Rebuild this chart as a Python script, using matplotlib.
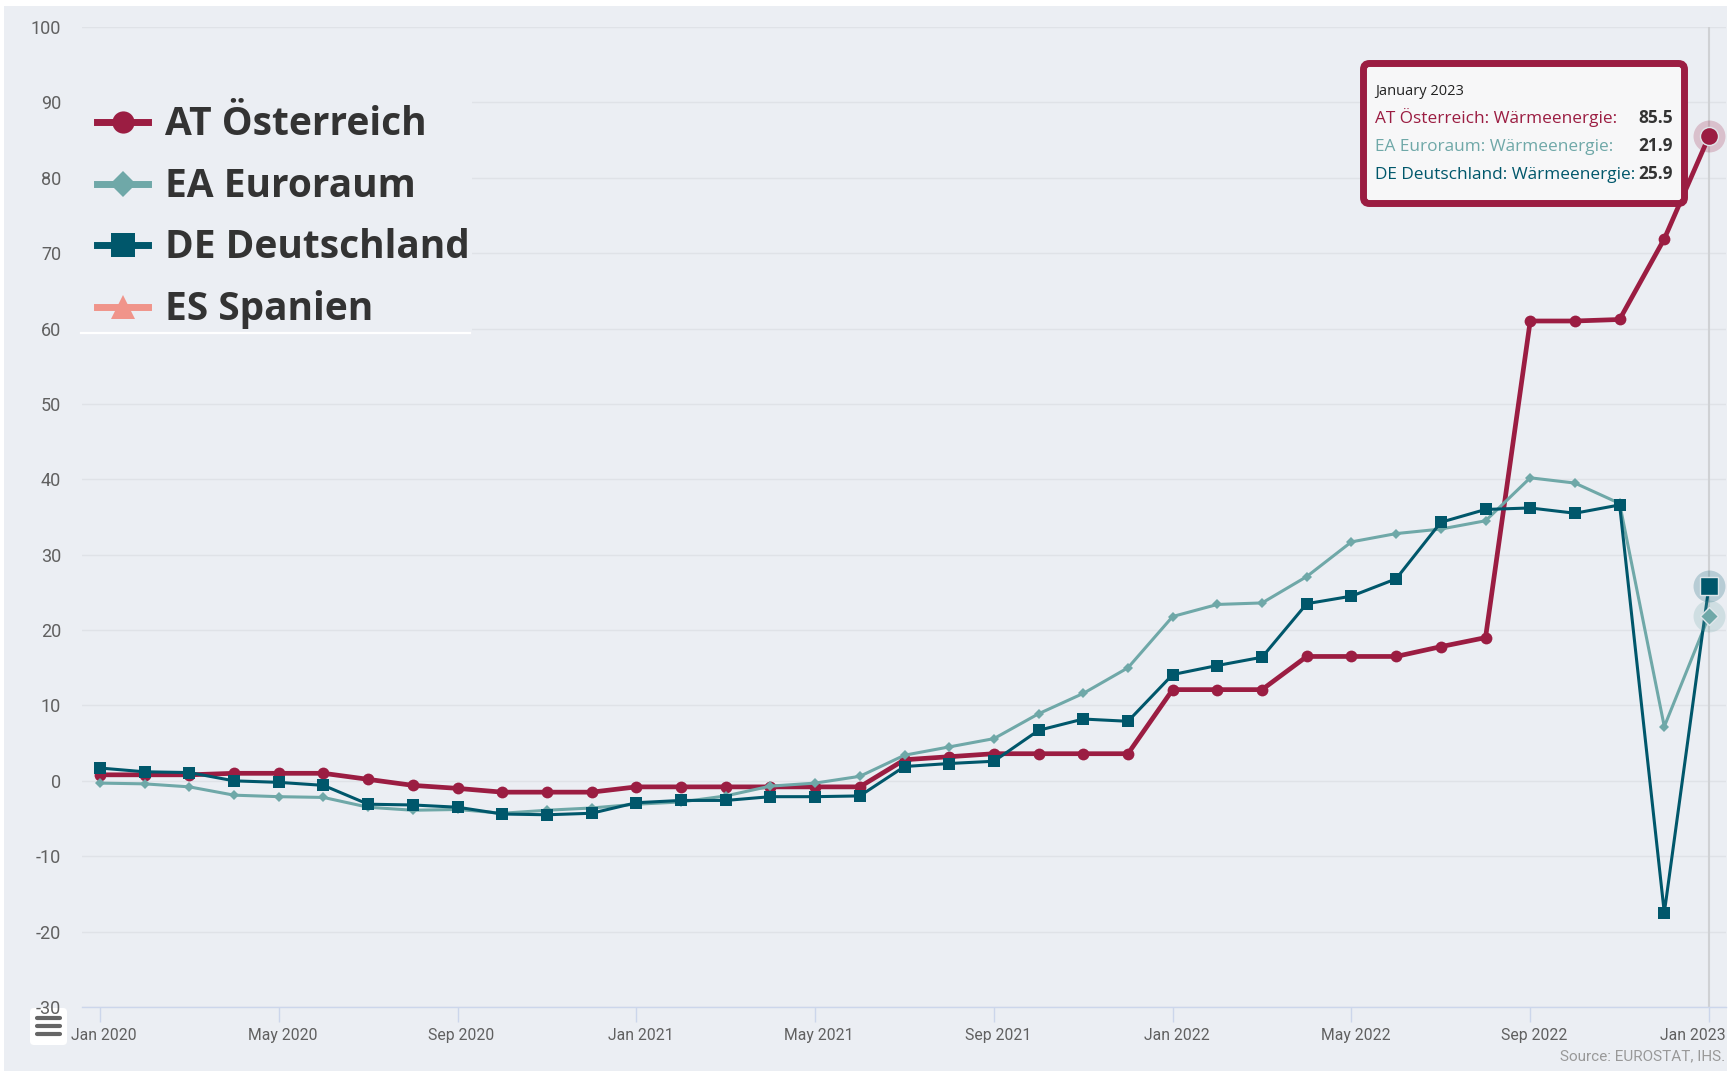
import numpy as np
import matplotlib
matplotlib.use("Agg")
import matplotlib.pyplot as plt
import matplotlib.transforms as mtransforms
from matplotlib.lines import Line2D
from matplotlib.patches import Rectangle, FancyBboxPatch

# ---------------- data ----------------
month_names = ["Jan", "Feb", "Mar", "Apr", "May", "Jun",
               "Jul", "Aug", "Sep", "Oct", "Nov", "Dec"]
months = [f"{m} {y}" for y in (2020, 2021, 2022) for m in month_names] + ["Jan 2023"]

at_values = [0.8, 0.8, 0.8, 1.0, 1.0, 1.0, 0.2, -0.6, -1.0, -1.5, -1.5, -1.5,
             -0.8, -0.8, -0.8, -0.8, -0.8, -0.8, 2.8, 3.2, 3.6, 3.6, 3.6, 3.6,
             12.1, 12.1, 12.1, 16.5, 16.5, 16.5, 17.8, 19.0, 61.0, 61.0, 61.2, 71.9,
             85.5]
ea_values = [-0.3, -0.4, -0.8, -1.9, -2.1, -2.2, -3.5, -3.9, -3.8, -4.3, -3.9, -3.6,
             -3.1, -2.8, -2.0, -0.7, -0.3, 0.6, 3.4, 4.5, 5.6, 8.9, 11.6, 15.0,
             21.8, 23.4, 23.6, 27.1, 31.7, 32.8, 33.4, 34.5, 40.2, 39.5, 36.8, 7.2,
             21.9]
de_values = [1.7, 1.2, 1.1, 0.0, -0.2, -0.6, -3.1, -3.2, -3.5, -4.4, -4.5, -4.3,
             -2.9, -2.6, -2.6, -2.1, -2.1, -2.0, 1.9, 2.3, 2.6, 6.7, 8.2, 7.9,
             14.1, 15.3, 16.4, 23.5, 24.5, 26.8, 34.3, 36.0, 36.2, 35.5, 36.6, -17.5,
             25.9]

series_names = ["AT Österreich", "EA Euroraum", "DE Deutschland", "ES Spanien"]
y_ticks = list(range(-30, 101, 10))
x_tick_idx = list(range(0, 37, 4))
tooltip_title = "January 2023"
tooltip_metric = "Wärmeenergie"
source_text = "Source: EUROSTAT, IHS."

# ---------------- style ----------------
BG = "#ebeef3"
C_AT = "#9b1d42"
C_EA = "#6fa8a8"
C_DE = "#00576b"
C_ES = "#f0948a"
TXT = "#333333"
LBL = "#606060"

W, H = 1734, 1071
fig = plt.figure(figsize=(W / 100, H / 100), dpi=100, facecolor="white")


def fx(px):
    return px / W


def fy(py):
    return 1 - py / H


# background panel (white strips at top/left/right)
fig.add_artist(Rectangle((fx(4), 0), fx(1727 - 4), (H - 6) / H,
                         transform=fig.transFigure, facecolor=BG,
                         edgecolor="none", zorder=-2))

ax_l, ax_r, ax_t, ax_b = 82, 1726, 27, 1007
ax = fig.add_axes([fx(ax_l), fy(ax_b), fx(ax_r - ax_l), (ax_b - ax_t) / H])
ax.patch.set_visible(False)

px_per_month = (1709 - 100) / 36.0
x = np.arange(len(months))
ax.set_xlim((ax_l - 100) / px_per_month, 36 + (ax_r - 1709) / px_per_month)
ax.set_ylim(-30, 100)

for s in ["top", "right", "left"]:
    ax.spines[s].set_visible(False)
ax.spines["bottom"].set_color("#ccd6eb")
ax.spines["bottom"].set_linewidth(1.0)

ax.set_yticks(y_ticks)
ax.set_yticklabels([str(v) for v in y_ticks], fontfamily="Roboto",
                   fontsize=13, color=LBL)
ax.tick_params(axis="y", length=0, pad=15)
ax.yaxis.grid(True, color="#dfe2e7", linewidth=1.0, zorder=0)
ax.set_axisbelow(True)

ax.set_xticks(x_tick_idx)
ax.set_xticklabels([months[i] for i in x_tick_idx], fontfamily="Roboto",
                   fontsize=11.3, color=LBL)
ax.tick_params(axis="x", length=11, width=1, color="#ccd6eb", pad=4)
xlabels = ax.get_xticklabels()
for lab in xlabels[:-1]:
    lab.set_transform(lab.get_transform() +
                      mtransforms.ScaledTranslation(4 / 100, 0, fig.dpi_scale_trans))
last = xlabels[-1]
last.set_horizontalalignment("right")
last.set_transform(last.get_transform() +
                   mtransforms.ScaledTranslation(17 / 100, 0, fig.dpi_scale_trans))

# crosshair
ax.axvline(36, color="#cfd1d4", linewidth=1.5, zorder=1)

# series
ax.plot(x, at_values, color=C_AT, lw=3.4, marker="o", ms=8.5, mew=0,
        zorder=3, solid_joinstyle="round")
ax.plot(x, ea_values, color=C_EA, lw=2.2, marker="D", ms=5.5, mew=0,
        zorder=4, solid_joinstyle="round")
ax.plot(x, de_values, color=C_DE, lw=2.2, marker="s", ms=8, mew=0,
        zorder=5, solid_joinstyle="round")

# hover states at last point
i = len(months) - 1
for vals, col, mk, ms in [(at_values, C_AT, "o", 13),
                          (ea_values, C_EA, "D", 9),
                          (de_values, C_DE, "s", 12.5)]:
    ax.plot([x[i]], [vals[i]], marker="o", ms=23, color=col, alpha=0.22,
            mew=0, zorder=6, clip_on=False)
    ax.plot([x[i]], [vals[i]], marker=mk, ms=ms, color=col, mec="#dfe6ea",
            mew=1, zorder=7, clip_on=False)

# ---------------- legend ----------------
fig.add_artist(Rectangle((fx(80), fy(332)), fx(472 - 80), (332 - 85) / H,
                         transform=fig.transFigure, facecolor=BG,
                         edgecolor="none", zorder=1))
fig.add_artist(Line2D([fx(81), fx(470)], [fy(333), fy(333)],
                      transform=fig.transFigure, color="white", lw=1.6, zorder=2))
leg_rows = [(series_names[0], C_AT, "o", 16),
            (series_names[1], C_EA, "D", 13),
            (series_names[2], C_DE, "s", 17),
            (series_names[3], C_ES, "^", 17)]
leg_base = [135, 197, 258, 320]
for (name, col, mk, ms), base in zip(leg_rows, leg_base):
    yc = base - 13
    fig.add_artist(Line2D([fx(97), fx(148)], [fy(yc), fy(yc)],
                          transform=fig.transFigure, color=col, lw=5, zorder=2))
    fig.add_artist(Line2D([fx(122.5)], [fy(yc)], transform=fig.transFigure,
                          color=col, marker=mk, ms=ms, mew=0, zorder=3))
    fig.text(fx(165), fy(base), name, fontfamily="Open Sans", fontweight="bold",
             fontsize=28, color=TXT, va="baseline", ha="left", zorder=3)

# ---------------- tooltip ----------------
tip = FancyBboxPatch((1363.5, H - 203.5), 1684.5 - 1363.5, 203.5 - 63.5,
                     boxstyle="round,pad=0,rounding_size=6",
                     transform=mtransforms.IdentityTransform(),
                     facecolor="#f7f7f8", edgecolor=C_AT, linewidth=5.0,
                     zorder=8)
fig.add_artist(tip)
fig.text(fx(1375), fy(95), tooltip_title, fontfamily="Open Sans", fontsize=10.5,
         color="#222222", va="baseline", zorder=9)
tip_rows = [(series_names[0], C_AT, at_values[-1], 123),
            (series_names[1], C_EA, ea_values[-1], 151),
            (series_names[2], C_DE, de_values[-1], 179)]
for name, col, val, base in tip_rows:
    fig.text(fx(1375), fy(base), f"{name}: {tooltip_metric}:",
             fontfamily="Open Sans", fontsize=12.4, color=col, va="baseline",
             zorder=9)
    fig.text(fx(1673), fy(base), f"{val:.1f}", fontfamily="Open Sans",
             fontweight="bold", fontsize=12.4, color=TXT, va="baseline",
             ha="right", zorder=9)

# ---------------- source & menu icon ----------------
fig.text(fx(1725), fy(1056), source_text, fontfamily="Roboto", fontsize=11,
         color="#999999", ha="right", va="center")

fig.add_artist(FancyBboxPatch((30, H - 1045), 37, 37,
                              boxstyle="round,pad=0,rounding_size=4",
                              transform=mtransforms.IdentityTransform(),
                              facecolor="white", edgecolor="none", zorder=-1))
for yb in (1018, 1026, 1034):
    fig.add_artist(Line2D([fx(37), fx(60)], [fy(yb), fy(yb)],
                          transform=fig.transFigure, color="#666666", lw=3.0,
                          solid_capstyle="round", zorder=-0.5))

fig.savefig("out.png", dpi=100, facecolor=fig.get_facecolor())
